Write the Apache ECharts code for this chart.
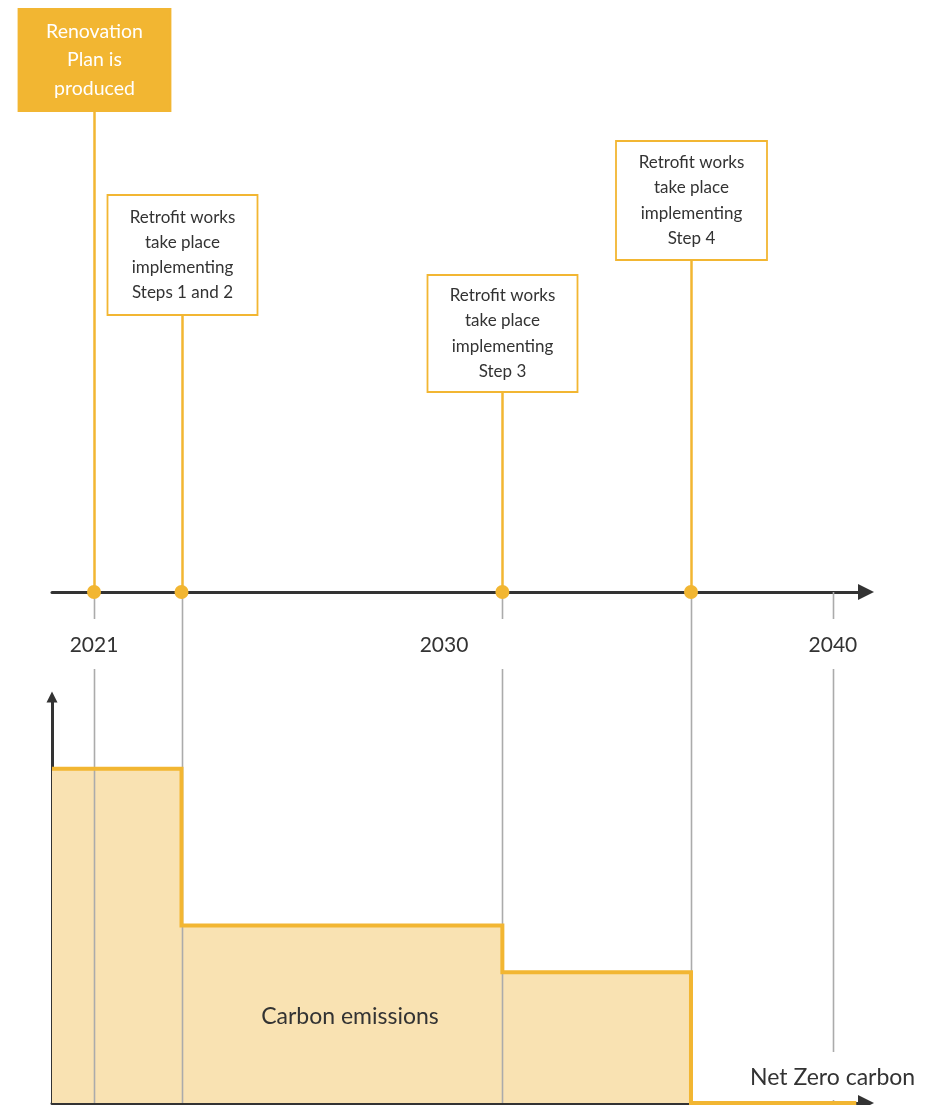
<!DOCTYPE html>
<html>
<head>
<meta charset="utf-8">
<script src="https://cdn.jsdelivr.net/npm/echarts@6/dist/echarts.min.js"></script>
<style>
html,body{margin:0;padding:0;background:#fff;}
#chart{width:930px;height:1105px;}
</style>
</head>
<body>
<div id="chart"></div>
<script>
// ---------- data ----------
const tickYears = [2021, 2030, 2040];
const eventYears = [2021, 2023.25, 2031.5, 2036.35];
const eventTexts = [
  'Renovation\nPlan is\nproduced',
  'Retrofit works\ntake place\nimplementing\nSteps 1 and 2',
  'Retrofit works\ntake place\nimplementing\nStep 3',
  'Retrofit works\ntake place\nimplementing\nStep 4'
];
const guideYears = [2021, 2023.25, 2031.5, 2036.35, 2040];
const emissionYears = [2019.92, 2023.25, 2031.5, 2036.35, 2040.6];
const emissionLevels = [82.3, 43.7, 32.2, 0, 0];
const areaLabel = 'Carbon emissions';
const endLabel = 'Net Zero carbon';

// ---------- layout / style ----------
const FONT = 'Lato, "Open Sans", "Noto Sans", sans-serif';
const ORANGE = '#F2B632';
const FILL = '#F9E2B2';
const DARK = '#333333';
const GRAY = '#ABABAB';
const X_MIN = 2019.92, X_MAX = 2040.85;
const AXIS_Y = 592;             // timeline axis (bottom of grid 0)
const LABEL_GAP = [619, 669];   // gap in guide lines for the year labels
const boxLayout = [
  {top: 9,   height: 102, width: 152, filled: true,  fontSize: 19.5, lineHeight: 28.5},
  {top: 195, height: 120, width: 150, filled: false, fontSize: 17, lineHeight: 25.3},
  {top: 275, height: 117, width: 150, filled: false, fontSize: 17, lineHeight: 25.3},
  {top: 141, height: 119, width: 151, filled: false, fontSize: 17, lineHeight: 25.3}
];
const guideGaps = [
  [LABEL_GAP],
  [],
  [LABEL_GAP],
  [],
  [LABEL_GAP, [1052, 1100]]
];

const chart = echarts.init(document.getElementById('chart'), null, {renderer: 'canvas'});

const option = {
  animation: false,
  backgroundColor: '#fff',
  grid: [
    {left: 52, top: 0, width: 814, height: AXIS_Y},
    {left: 52, top: 697, width: 814, height: 406}
  ],
  xAxis: [
    {
      gridIndex: 0, type: 'value', min: X_MIN, max: X_MAX,
      axisLine: {show: true, onZero: false, lineStyle: {color: DARK, width: 3},
                 symbol: ['none', 'triangle'], symbolSize: [16, 16]},
      axisTick: {show: false},
      splitLine: {show: false},
      axisLabel: {
        show: true, customValues: tickYears, margin: 43,
        fontSize: 21, color: DARK, fontFamily: FONT,
        formatter: v => String(Math.round(v))
      }
    },
    {
      gridIndex: 1, type: 'value', min: X_MIN, max: X_MAX,
      axisLine: {show: true, onZero: false, lineStyle: {color: DARK, width: 3},
                 symbol: ['none', 'triangle'], symbolSize: [16, 16]},
      axisTick: {show: false}, axisLabel: {show: false}, splitLine: {show: false}
    }
  ],
  yAxis: [
    {gridIndex: 0, type: 'value', min: 0, max: 100, show: false},
    {
      gridIndex: 1, type: 'value', min: 0, max: 100,
      axisLine: {show: true, onZero: false, lineStyle: {color: DARK, width: 3},
                 symbol: ['none', 'triangle'], symbolSize: [11, 11]},
      axisTick: {show: false}, axisLabel: {show: false}, splitLine: {show: false}
    }
  ],
  series: [
    // emissions fill
    {
      type: 'line', xAxisIndex: 1, yAxisIndex: 1, step: 'end',
      data: emissionYears.map((y, i) => [y, emissionLevels[i]]),
      showSymbol: false, lineStyle: {width: 0, opacity: 0},
      areaStyle: {color: FILL, opacity: 1}, z: 1, silent: true
    },
    // gray guide lines
    {
      type: 'custom', xAxisIndex: 1, yAxisIndex: 1, z: 2, silent: true,
      data: guideYears.map(y => [y]),
      renderItem: function (params, api) {
        const x = Math.round(api.coord([api.value(0), 0])[0]) + 0.5;
        const bottom = params.coordSys.y + params.coordSys.height;
        const gaps = guideGaps[params.dataIndex];
        const segs = [];
        let start = AXIS_Y;
        gaps.forEach(g => { segs.push([start, g[0]]); start = g[1]; });
        segs.push([start, bottom]);
        return {
          type: 'group',
          children: segs.map(s => ({
            type: 'line',
            shape: {x1: x, y1: s[0], x2: x, y2: s[1]},
            style: {stroke: GRAY, lineWidth: 1.6}
          }))
        };
      }
    },
    // emissions step line
    {
      type: 'line', xAxisIndex: 1, yAxisIndex: 1, step: 'end',
      data: emissionYears.map((y, i) => [y, emissionLevels[i]]),
      showSymbol: false, lineStyle: {color: ORANGE, width: 4, join: 'miter', cap: 'butt'},
      z: 3, silent: true
    },
    // event callout boxes
    {
      type: 'custom', xAxisIndex: 0, yAxisIndex: 0, z: 3, silent: true,
      data: eventYears.map(y => [y, 0]),
      renderItem: function (params, api) {
        const i = params.dataIndex;
        const p = api.coord([api.value(0), api.value(1)]);
        const L = boxLayout[i];
        const cx = Math.round(p[0]) + 0.5;
        return {
          type: 'group',
          children: [
            {type: 'line', shape: {x1: cx, y1: p[1], x2: cx, y2: L.top + L.height},
             style: {stroke: ORANGE, lineWidth: 2.5}},
            {type: 'rect', shape: {x: cx - L.width / 2, y: L.top, width: L.width, height: L.height},
             style: {fill: L.filled ? ORANGE : '#fff', stroke: ORANGE, lineWidth: 1.8}},
            {type: 'text', style: {
              text: eventTexts[i], x: cx, y: L.top + L.height / 2,
              align: 'center', verticalAlign: 'middle',
              fontSize: L.fontSize, lineHeight: L.lineHeight, fontFamily: FONT,
              fill: L.filled ? '#fff' : DARK
            }}
          ]
        };
      }
    },
    // event points
    {
      type: 'scatter', xAxisIndex: 0, yAxisIndex: 0, z: 4, clip: false, silent: true,
      data: eventYears.map(y => [y, 0]),
      symbolSize: 14, itemStyle: {color: ORANGE, opacity: 1}
    }
  ],
  graphic: [
    {type: 'text', z: 100, x: 350, y: 1017,
     style: {text: areaLabel, fontSize: 23, fontFamily: FONT, fill: DARK,
             align: 'center', verticalAlign: 'middle'}},
    {type: 'text', z: 100, x: 750, y: 1078,
     style: {text: endLabel, fontSize: 23, fontFamily: FONT, fill: DARK,
             align: 'left', verticalAlign: 'middle'}}
  ]
};
chart.setOption(option);
</script>
</body>
</html>
